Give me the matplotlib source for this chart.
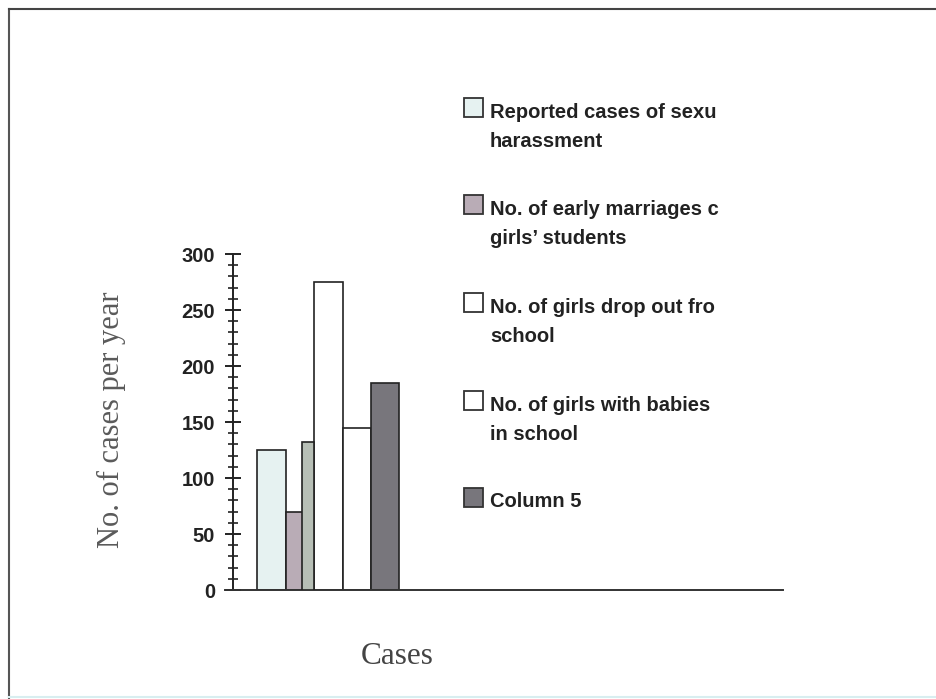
import matplotlib.pyplot as plt
from matplotlib.patches import Rectangle
from matplotlib.lines import Line2D
from matplotlib.ticker import MultipleLocator

# one category, five series
series = ["Reported cases of sexu\nharassment",
          "No. of early marriages c\ngirls\u2019 students",
          "No. of girls drop out fro\nschool",
          "No. of girls with babies\nin school",
          "Column 5"]
values = [125, 70, 275, 145, 185]
step_value = 132          # the raised right part of the 2nd bar
colors = ["#e6f2f1", "#b9acb6", "#ffffff", "#ffffff", "#78767c"]
step_color = "#b7bfb6"
yticks = [0, 50, 100, 150, 200, 250, 300]

W, H = 936, 699
fig = plt.figure(figsize=(W / 100, H / 100), dpi=100)

# axes box in pixels: x 225..783, y 254..590
ax = fig.add_axes([225 / W, 1 - 590 / H, (783 - 225) / W, (590 - 254) / H])
ax.set_xlim(-3.64, 16.0)
ax.set_ylim(0, 300)

offsets = [-2, -1, 0, 1, 2]
for off, v, c in zip(offsets, values, colors):
    ax.bar(off, v, width=1.0, color=c, edgecolor="#222222", linewidth=1.2, zorder=2)
# stepped top of the second bar
ax.bar(-0.93, step_value, width=0.43, align="edge", color=step_color,
       edgecolor="#222222", linewidth=1.2, zorder=3)

for s in ["top", "right"]:
    ax.spines[s].set_visible(False)
ax.spines["left"].set_position(("axes", 8 / 558))
ax.spines["left"].set_color("#222222")
ax.spines["bottom"].set_color("#333333")
ax.spines["left"].set_linewidth(1.4)
ax.spines["bottom"].set_linewidth(1.4)

ax.set_xticks([])
ax.set_yticks(yticks)
ax.yaxis.set_minor_locator(MultipleLocator(10))
ax.tick_params(axis="y", which="major", direction="inout", length=11,
               width=1.4, color="#222222", pad=7.5)
ax.tick_params(axis="y", which="minor", direction="inout", length=7.5,
               width=1.2, color="#222222")
for lab in ax.get_yticklabels():
    lab.set_family("Liberation Sans")
    lab.set_fontweight("bold")
    lab.set_fontsize(14.5)
    lab.set_color("#222222")

# axis titles
fig.text(111 / W, 1 - 420 / H, "No. of cases per year", rotation=90,
         ha="center", va="center", family="Liberation Serif", fontsize=22,
         color="#5a5a5a")
fig.text(397 / W, 1 - 657 / H, "Cases", ha="center", va="center",
         family="Liberation Serif", fontsize=22.5, color="#444444")

# legend drawn by hand, clipped like the scan
baselines = [117, 214, 312, 410, 507]
line_gap = 30
for y, lab, c in zip(baselines, series, colors):
    fig.add_artist(Rectangle((464 / W, 1 - y / H), 19 / W, 19 / H,
                             transform=fig.transFigure, facecolor=c,
                             edgecolor="#333333", linewidth=1.3))
    last = y + line_gap * lab.count("\n")
    fig.text(490 / W, 1 - last / H, lab, ha="left", va="baseline",
             family="Liberation Sans", fontweight="bold", fontsize=14.5,
             color="#222222", linespacing=1.68)

# page frame
fig.add_artist(Line2D([9 / W, 9 / W], [0, 1 - 9 / H], transform=fig.transFigure,
                      color="#555555", linewidth=1.5))
fig.add_artist(Line2D([9 / W, 1], [1 - 9 / H, 1 - 9 / H], transform=fig.transFigure,
                      color="#444444", linewidth=1.5))
fig.add_artist(Line2D([9 / W, 1], [1 - 697 / H, 1 - 697 / H], transform=fig.transFigure,
                      color="#d8eef0", linewidth=1.5))

fig.savefig("out.png", dpi=100)
